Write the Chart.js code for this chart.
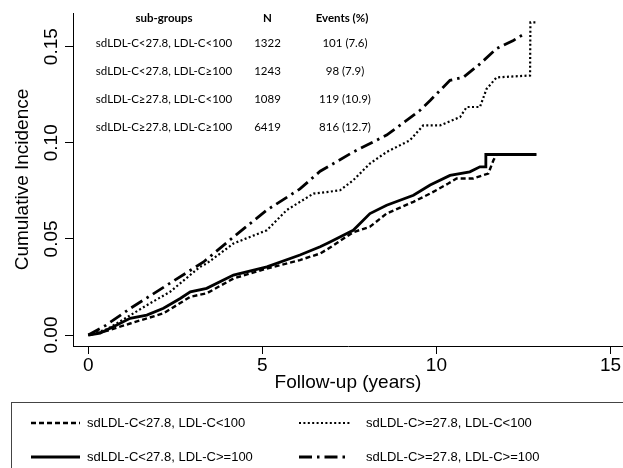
<!DOCTYPE html>
<html>
<head>
<meta charset="utf-8">
<script src="https://cdn.jsdelivr.net/npm/chart.js@4/dist/chart.umd.min.js"></script>
<style>
  html, body { margin: 0; padding: 0; background: #fff; }
  #wrap { width: 623px; height: 468px; position: relative; }
</style>
</head>
<body>
<div id="wrap"><canvas id="c" width="623" height="468"></canvas></div>
<script>
// Axis ticks
const xTicks = [0, 5, 10, 15];
const yTicks = [0, 0.05, 0.10, 0.15];

// Sub-group summary table
const groupTableNames = ['sdLDL-C<27.8, LDL-C<100', 'sdLDL-C<27.8, LDL-C\u2265100',
                         'sdLDL-C\u226527.8, LDL-C<100', 'sdLDL-C\u226527.8, LDL-C\u2265100'];
const groupN = [1322, 1243, 1089, 6419];
const groupEvents = [101, 98, 119, 816];
const groupPct = ['7.6', '7.9', '10.9', '12.7'];

// Legend labels
const legendLabels = ['sdLDL-C<27.8, LDL-C<100', 'sdLDL-C<27.8, LDL-C>=100',
                      'sdLDL-C>=27.8, LDL-C<100', 'sdLDL-C>=27.8, LDL-C>=100'];

// Cumulative incidence curves (time in years, incidence)
const tLowLow = [0, 0.5, 1.2, 2.16, 2.93, 3.4, 4.17, 5.13, 6.08, 6.66, 6.9, 7.61, 8.09, 8.57, 9.34, 9.82, 10.34, 10.58, 11.06, 11.49, 11.64, 11.73, 12.87];
const cLowLow = [0, 0.002, 0.006, 0.0113, 0.0199, 0.0217, 0.0294, 0.0346, 0.039, 0.0424, 0.045, 0.0535, 0.0563, 0.0632, 0.0693, 0.0736, 0.0788, 0.0814, 0.0814, 0.084, 0.091, 0.0939, 0.0939];

const tLowHigh = [0, 0.34, 0.82, 1.2, 1.68, 2.16, 2.64, 2.93, 3.4, 4.17, 5.13, 6.08, 6.66, 6.9, 7.61, 8.09, 8.57, 9.34, 9.82, 10.39, 10.96, 11.25, 11.4, 11.42, 12.87];
const cLowHigh = [0, 0.001, 0.0052, 0.0087, 0.0104, 0.0139, 0.019, 0.0225, 0.0243, 0.0312, 0.0355, 0.0416, 0.0459, 0.048, 0.0545, 0.0632, 0.0675, 0.0727, 0.078, 0.083, 0.0849, 0.0875, 0.0875, 0.0939, 0.0939];

const tHighLow = [0, 0.54, 1.68, 2.35, 3.21, 3.4, 4.17, 5.13, 5.7, 6.47, 6.9, 7.23, 7.61, 8.09, 8.57, 9.24, 9.62, 10.1, 10.5, 10.68, 10.87, 11.25, 11.44, 11.73, 12.69, 12.7, 12.86];
const cHighLow = [0, 0.003, 0.0155, 0.0225, 0.0355, 0.0372, 0.0476, 0.0545, 0.065, 0.0736, 0.0745, 0.0753, 0.0805, 0.0892, 0.0952, 0.1013, 0.109, 0.109, 0.112, 0.1134, 0.1186, 0.1186, 0.128, 0.134, 0.135, 0.1626, 0.1626];

const tHighHigh = [0, 0.5, 1.2, 2.35, 3.31, 4.17, 5.13, 6.08, 6.66, 7.61, 8.57, 9.53, 9.82, 10.39, 10.77, 11.25, 11.73, 12.21, 12.5];
const cHighHigh = [0, 0.005, 0.0138, 0.027, 0.038, 0.051, 0.065, 0.076, 0.0852, 0.0952, 0.104, 0.1169, 0.122, 0.1325, 0.134, 0.141, 0.149, 0.1532, 0.1564];

const pairs = (t, c) => t.map((v, i) => ({ x: v, y: c[i] }));

const lineStyles = [
  { width: 2.4, dash: [5, 3] },          // sdLDL<27.8, LDL<100
  { width: 2.8, dash: [] },              // sdLDL<27.8, LDL>=100
  { width: 2.2, dash: [2, 2.4] },        // sdLDL>=27.8, LDL<100
  { width: 2.8, dash: [13, 5, 2.5, 5] }  // sdLDL>=27.8, LDL>=100
];
const curves = [pairs(tLowLow, cLowLow), pairs(tLowHigh, cLowHigh), pairs(tHighLow, cHighLow), pairs(tHighHigh, cHighHigh)];

const datasets = curves.map((d, i) => ({
  label: legendLabels[i],
  data: d,
  borderColor: '#000',
  borderWidth: lineStyles[i].width,
  borderDash: lineStyles[i].dash,
  pointRadius: 0,
  fill: false,
  tension: 0
}));

const AXIS_FONT = { family: '"Liberation Sans", Arial, sans-serif', size: 19 };

// Draws the summary table inside the plot and the boxed legend below it
const annotations = {
  id: 'annotations',
  afterDraw(chart) {
    const ctx = chart.ctx;
    ctx.save();
    ctx.fillStyle = '#000';
    ctx.textBaseline = 'middle';
    ctx.textAlign = 'center';
    const tf = 'Lato, "Open Sans", sans-serif';
    ctx.font = 'bold 11.5px ' + tf;
    ctx.fillText('sub-groups', 164, 18);
    ctx.fillText('N', 267.5, 18);
    ctx.fillText('Events (%)', 342, 18);
    ctx.font = '11.5px ' + tf;
    const rowY = [43, 71, 99, 127];
    for (let i = 0; i < groupTableNames.length; i++) {
      ctx.fillText(groupTableNames[i], 164, rowY[i]);
      ctx.fillText(String(groupN[i]), 267.5, rowY[i]);
      ctx.fillText(groupEvents[i] + ' (' + groupPct[i] + ')', 345, rowY[i]);
    }

    // legend box
    ctx.strokeStyle = '#444';
    ctx.lineWidth = 1;
    ctx.strokeRect(11.5, 402.5, 640, 90);
    const slots = [
      { x0: 31, x1: 80, tx: 87, y: 423 },
      { x0: 31, x1: 80, tx: 87, y: 457 },
      { x0: 299, x1: 350, tx: 366, y: 423 },
      { x0: 299, x1: 350, tx: 366, y: 457 }
    ];
    ctx.font = '13px "Liberation Sans", Arial, sans-serif';
    ctx.textAlign = 'left';
    slots.forEach((s, i) => {
      ctx.beginPath();
      ctx.lineWidth = lineStyles[i].width;
      ctx.setLineDash(lineStyles[i].dash);
      ctx.strokeStyle = '#000';
      ctx.moveTo(s.x0, s.y);
      ctx.lineTo(s.x1, s.y);
      ctx.stroke();
      ctx.setLineDash([]);
      ctx.fillText(legendLabels[i], s.tx, s.y);
    });
    ctx.restore();
  }
};

new Chart(document.getElementById('c'), {
  type: 'line',
  data: { datasets },
  options: {
    responsive: false,
    animation: false,
    events: [],
    layout: { padding: { left: 0, top: 13, right: 0, bottom: 72 } },
    plugins: { legend: { display: false }, tooltip: { enabled: false } },
    scales: {
      x: {
        type: 'linear',
        min: -0.44,
        max: 15.36,
        afterBuildTicks: s => { s.ticks = xTicks.map(v => ({ value: v })); },
        afterFit: s => { s.height = 50; },
        grid: { drawOnChartArea: false, drawTicks: true, tickLength: 8, color: '#000', lineWidth: 1 },
        border: { display: true, color: '#000', width: 1 },
        ticks: { color: '#000', font: AXIS_FONT, padding: 0, maxRotation: 0, autoSkip: false },
        title: { display: true, text: 'Follow-up (years)', color: '#000', font: AXIS_FONT, padding: { top: 0, bottom: 2 } }
      },
      y: {
        type: 'linear',
        min: -0.0057,
        max: 0.1675,
        afterBuildTicks: s => { s.ticks = yTicks.map(v => ({ value: v })); },
        afterFit: s => { s.width = 73; },
        grid: { drawOnChartArea: false, drawTicks: true, tickLength: 8, color: '#000', lineWidth: 1 },
        border: { display: true, color: '#000', width: 1 },
        ticks: { color: '#000', font: AXIS_FONT, padding: -5, minRotation: 90, maxRotation: 90,
                 crossAlign: 'center', autoSkip: false, callback: v => v.toFixed(2) },
        title: { display: true, text: 'Cumulative Incidence', color: '#000', font: AXIS_FONT, padding: { top: 11, bottom: 0 } }
      }
    }
  },
  plugins: [annotations]
});
</script>
</body>
</html>
